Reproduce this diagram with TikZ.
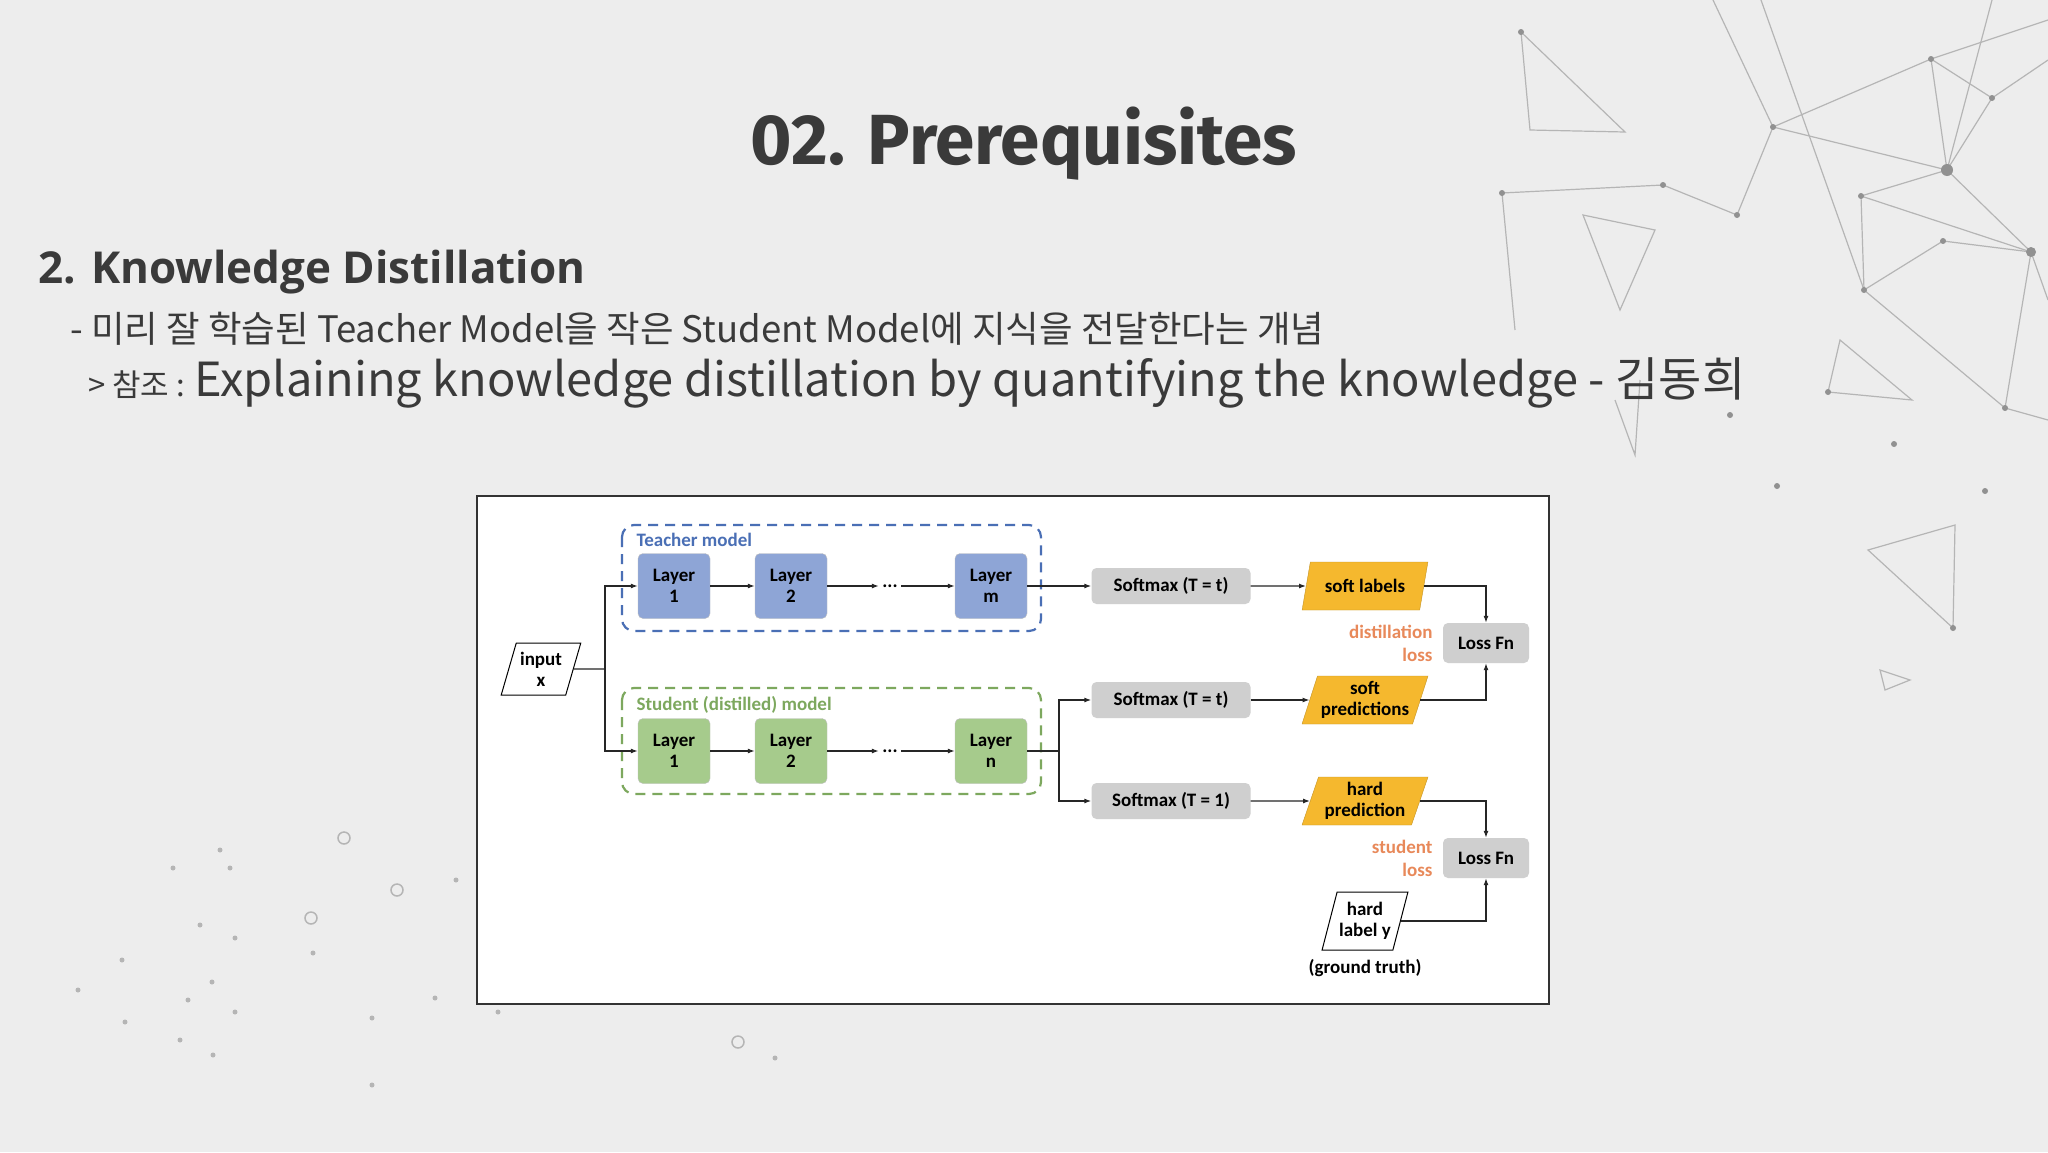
\documentclass[tikz,border=0pt]{standalone}
\usepackage{fontspec}
\setmainfont{Open Sans}
\newfontfamily\krf{Noto Sans CJK KR}
\newfontfamily\calf{Carlito}
\newfontfamily\ttlf{Fira Sans}
\usetikzlibrary{shapes.geometric,arrows.meta,calc}
\definecolor{bgc}{HTML}{EDEDED}
\definecolor{tblue}{HTML}{8EA5D6}
\definecolor{tblueb}{HTML}{4A6FB5}
\definecolor{sgreen}{HTML}{A6CB8C}
\definecolor{sgreenb}{HTML}{7DA85E}
\definecolor{sgray}{HTML}{CFCFCF}
\definecolor{orng}{HTML}{F5B82E}
\definecolor{lossc}{HTML}{E8895A}
\definecolor{dark}{HTML}{3A3A3A}
\definecolor{net}{HTML}{B5B5B5}
\tikzset{
 dfont/.style={font=\calf\bfseries\fontsize{19}{21}\selectfont},
 layer/.style={draw=black!25,rounded corners=5pt,minimum width=72pt,minimum height=65pt,align=center,dfont,inner sep=1pt},
 tl/.style={layer,fill=tblue},
 sl/.style={layer,fill=sgreen},
 smx/.style={fill=sgray,rounded corners=5pt,minimum width=159pt,minimum height=36pt,dfont},
 para/.style={trapezium,trapezium stretches=true,trapezium left angle=70,trapezium right angle=110,align=center,dfont,inner sep=2pt},
 opar/.style={para,fill=orng,draw=orng!80!black,minimum width=126pt,minimum height=48pt},
 wpar/.style={para,draw=black,fill=white,line width=1pt,minimum width=80pt,minimum height=58pt},
 arr/.style={-{Latex[length=7pt,width=5pt]},line width=1.2pt,black!85},
 ln/.style={line width=1.2pt,black!85},
 grp/.style={dashed,dash pattern=on 10pt off 7pt,line width=2.2pt,rounded corners=12pt},
 dot/.style={circle,fill=net!80!black,inner sep=0pt,minimum size=6pt},
}
\begin{document}
\begin{tikzpicture}[x=1pt,y=-1pt]
\fill[bgc] (0,0) rectangle (2048,1152);
\useasboundingbox (0,0) rectangle (2048,1152);
% network decoration
\draw[net,line width=1.2pt] (1521,32)--(1625,132)--(1530,130)--cycle;
\draw[net,line width=1.2pt] (1502,193)--(1663,185)--(1737,215)--(1773,127)--(1931,59)--(1992,98)--(2048,60);
\draw[net,line width=1.2pt] (1773,127)--(1947,170)--(2031,252)--(1861,196)--(1947,170)--(1931,59);
\draw[net,line width=1.2pt] (1861,196)--(1864,290)--(2005,408)--(2031,252)--(1943,241)--(1864,290);
\draw[net,line width=1.2pt] (1773,127)--(1713,0) (1992,98)--(1947,170)--(1992,0) (1864,290)--(1761,0) (1502,193)--(1515,330);
\draw[net,line width=1.2pt] (1583,215)--(1655,230)--(1620,310)--cycle;
\draw[net,line width=1.2pt] (1840,340)--(1912,400)--(1828,392)--cycle;
\draw[net,line width=1.2pt] (1868,550)--(1955,525)--(1953,628)--cycle;
\draw[net,line width=1.2pt] (1880,670)--(1910,680)--(1885,690)--cycle;
\draw[net,line width=1.2pt] (1615,400)--(1635,455)--(1640,380);
\draw[net,line width=1.2pt] (1931,59)--(2048,20) (2031,252)--(2048,300) (2005,408)--(2048,420);
\foreach \p in {(1521,32),(1773,127),(1931,59),(1947,170),(1992,98),(2031,252),(1861,196),(1864,290),(2005,408),(1663,185),(1502,193),(1737,215),(1943,241),(1828,392),(1894,444),(1777,486),(1985,491),(1953,628),(1730,415)}
 \node[dot] at \p {};
\node[dot,minimum size=12pt] at (1947,170) {};
\node[dot,minimum size=10pt] at (2031,252) {};
% left-bottom dots
\foreach \p in {(173,868),(220,850),(230,868),(122,960),(200,925),(235,938),(212,982),(125,1022),(180,1040),(235,1012),(313,953),(372,1018),(435,998),(372,1085),(498,1012),(456,880),(213,1055),(775,1058),(78,990),(188,1000)}
 \fill[net] \p circle (2.5pt);
\foreach \p in {(344,838),(397,890),(311,918),(738,1042)}
 \draw[net,line width=1.5pt] \p circle (6pt);
% titles
\node[font=\ttlf\bfseries\fontsize{71}{75}\selectfont,text=dark] (title) at (1024,144) {02. Prerequisites};
\node[anchor=west,font=\bfseries\fontsize{44}{48}\selectfont,text=dark,inner sep=0] (sub) at (38,272) {2. Knowledge Distillation};
\node[anchor=west,font=\krf\fontsize{36.5}{40}\selectfont,text=dark,inner sep=0] (l1) at (70,329) {- 미리 잘 학습된 Teacher Model을 작은 Student Model에 지식을 전달한다는 개념};
\node[anchor=west,text=dark,inner sep=0] (l2) at (88,383) {{\krf\fontsize{31}{34}\selectfont > 참조 : }{\krf\fontsize{47}{52}\selectfont Explaining knowledge distillation by quantifying the knowledge - 김동희}};
% frame
\draw[fill=white,draw=black!80,line width=1.5pt] (477,496) rectangle (1549,1004);
% groups
\draw[grp,draw=tblueb] (622,525) rectangle (1041,631);
\draw[grp,draw=sgreenb] (622,688) rectangle (1041,794);
\node[anchor=west,text=tblueb,dfont] (tm) at (633,540) {Teacher model};
\node[anchor=west,text=sgreenb,dfont] (sm) at (633,705) {Student (distilled) model};
% layers
\node[tl] (t1) at (674,586) {Layer\\1};
\node[tl] (t2) at (791,586) {Layer\\2};
\node[dfont] (td) at (890,586) {...};
\node[tl] (tm2) at (991,586) {Layer\\m};
\node[sl] (s1) at (674,751) {Layer\\1};
\node[sl] (s2) at (791,751) {Layer\\2};
\node[dfont] (sd) at (890,751) {...};
\node[sl] (sn) at (991,751) {Layer\\n};
\node[wpar,minimum width=80pt,minimum height=52pt] (in) at (541,669) {input\\x};
\coordinate (br) at (605,669);
\draw[ln] (in.east) -- (br);
\draw[arr] (br) |- (t1.west);
\draw[arr] (br) |- (s1.west);
\draw[arr] (t1) -- (t2); \draw[arr] (t2) -- (td); \draw[arr] (td) -- (tm2);
\draw[arr] (s1) -- (s2); \draw[arr] (s2) -- (sd); \draw[arr] (sd) -- (sn);
% softmax
\node[smx] (sm1) at (1171,586) {Softmax (T = t)};
\node[smx] (sm2) at (1171,700) {Softmax (T = t)};
\node[smx] (sm3) at (1171,801) {Softmax (T = 1)};
\draw[arr] (tm2) -- (sm1);
\coordinate (sb) at (1059,751);
\draw[ln] (sn.east) -- (sb);
\draw[arr] (sb) |- (sm2.west);
\draw[arr] (sb) |- (sm3.west);
% outputs
\node[opar] (o1) at (1365,586) {soft labels};
\node[opar] (o2) at (1365,700) {soft\\predictions};
\node[opar] (o3) at (1365,801) {hard\\prediction};
\draw[arr] (sm1) -- (o1); \draw[arr] (sm2) -- (o2); \draw[arr] (sm3) -- (o3);
\node[smx,minimum width=86pt,minimum height=40pt] (lf1) at (1486,643) {Loss Fn};
\node[smx,minimum width=86pt,minimum height=40pt] (lf2) at (1486,858) {Loss Fn};
\draw[arr] (o1.east) -| (lf1.north);
\draw[arr] (o2.east) -| (lf1.south);
\draw[arr] (o3.east) -| (lf2.north);
\node[wpar] (hl) at (1365,921) {hard\\label y};
\draw[arr] (hl.east) -| (lf2.south);
\node[dfont] (gt) at (1365,968) {(ground truth)};
\node[anchor=east,align=right,text=lossc,font=\calf\bfseries\fontsize{19}{23}\selectfont] (dl) at (1436,643) {distillation\\loss};
\node[anchor=east,align=right,text=lossc,font=\calf\bfseries\fontsize{19}{23}\selectfont] (stl) at (1436,858) {student\\loss};
\end{tikzpicture}
\end{document}
